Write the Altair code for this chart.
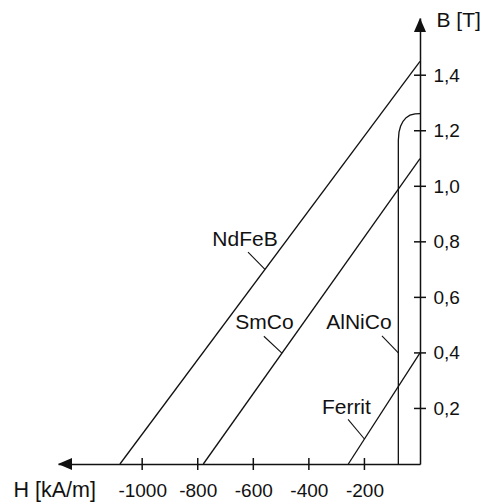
import altair as alt
import pandas as pd

# straight demagnetization lines: start on H axis, end on B axis
materials = ["NdFeB", "SmCo", "Ferrit"]
h_start = [-1080, -780, -258]
b_end = [1.45, 1.10, 0.40]

# AlNiCo curve
alnico_h = [-78, -78, -75.6, -70, -61, -50, -36, -18, 0]
alnico_b = [0, 1.166, 1.195, 1.216, 1.234, 1.247, 1.256, 1.261, 1.262]

# curve labels and leader lines
label_names = ["NdFeB", "SmCo", "AlNiCo", "Ferrit"]
label_h = [-630, -560, -220, -265]
label_b = [0.806, 0.507, 0.509, 0.201]
leader_h1 = [-619, -562, -137, -259]
leader_b1 = [0.763, 0.460, 0.461, 0.161]
leader_h2 = [-558, -497, -78, -200]
leader_b2 = [0.701, 0.399, 0.40, 0.09]

h_ticks = [-1000, -800, -600, -400, -200]
b_ticks = [0.2, 0.4, 0.6, 0.8, 1.0, 1.2, 1.4]
h_domain = [-1303, 0]
b_domain = [0, 1.606]

FONT = "Liberation Sans"
INK = "#111111"

rows = []
for m, h0, b1 in zip(materials, h_start, b_end):
    rows.append({"material": m, "H": h0, "B": 0.0, "o": 0})
    rows.append({"material": m, "H": 0.0, "B": b1, "o": 1})
for i, (h, b) in enumerate(zip(alnico_h, alnico_b)):
    rows.append({"material": "AlNiCo", "H": h, "B": b, "o": i})
lines_df = pd.DataFrame(rows)

labels_df = pd.DataFrame({"name": label_names, "H": label_h, "B": label_b})
leaders_df = pd.DataFrame({"H": leader_h1, "B": leader_b1, "H2": leader_h2, "B2": leader_b2})
xt_df = pd.DataFrame({"H": h_ticks, "B": [0.0] * len(h_ticks)})
yt_df = pd.DataFrame({"H": [0.0] * len(b_ticks), "B": b_ticks})
xarrow_df = pd.DataFrame({"H": [h_domain[0]], "B": [b_domain[0]]})
yarrow_df = pd.DataFrame({"H": [h_domain[1]], "B": [b_domain[1]]})

xscale = alt.Scale(domain=h_domain, nice=False, zero=False)
yscale = alt.Scale(domain=b_domain, nice=False, zero=False)

xaxis = alt.Axis(
    title="H [kA/m]", values=h_ticks, ticks=False, tickSize=0, grid=False,
    domain=True, domainColor=INK, domainWidth=1.5,
    labelExpr="'' + datum.value", labelFont=FONT, labelFontSize=19,
    labelColor=INK, labelPadding=26, labelBaseline="middle",
    titleFont=FONT, titleFontSize=21.5, titleFontWeight="normal", titleColor=INK,
    titleX=-45, titleY=26, titleAlign="left", titleBaseline="middle",
)
yaxis = alt.Axis(
    title="B [T]", values=b_ticks, ticks=False, tickSize=0, grid=False,
    domain=True, domainColor=INK, domainWidth=1.5, orient="right",
    labelExpr="replace(format(datum.value, '.1f'), '.', ',')",
    labelFont=FONT, labelFontSize=19, labelColor=INK, labelPadding=13,
    labelAlign="left", labelBaseline="middle",
    titleFont=FONT, titleFontSize=21, titleFontWeight="normal", titleColor=INK,
    titleX=16, titleY=2, titleAngle=0, titleAlign="left", titleBaseline="middle",
)

X = lambda f="H": alt.X(f"{f}:Q", scale=xscale, axis=xaxis)
Y = lambda f="B": alt.Y(f"{f}:Q", scale=yscale, axis=yaxis)

lines = alt.Chart(lines_df).mark_line(color=INK, strokeWidth=1.3).encode(
    x=X(), y=Y(), detail="material:N", order="o:Q"
)
leaders = alt.Chart(leaders_df).mark_rule(color=INK, strokeWidth=1.1).encode(
    x=X(), y=Y(), x2="H2:Q", y2="B2:Q"
)
labels = alt.Chart(labels_df).mark_text(
    font=FONT, fontSize=21, color=INK, align="center", baseline="middle"
).encode(x=X(), y=Y(), text="name:N")
xticks = alt.Chart(xt_df).mark_tick(
    orient="vertical", size=12, thickness=1.5, color=INK, opacity=1
).encode(x=X(), y=Y())
yticks = alt.Chart(yt_df).mark_tick(
    orient="horizontal", size=12, thickness=1.5, color=INK, opacity=1
).encode(x=X(), y=Y())
xarrow = alt.Chart(xarrow_df).mark_point(
    shape="M0,0L2,-0.86L2,0.86Z", size=196, filled=True, color=INK, opacity=1, strokeWidth=0
).encode(x=X(), y=Y())
yarrow = alt.Chart(yarrow_df).mark_point(
    shape="M0,0L-0.86,2L0.86,2Z", size=196, filled=True, color=INK, opacity=1, strokeWidth=0
).encode(x=X(), y=Y())

chart = alt.layer(lines, leaders, labels, xticks, yticks, xarrow, yarrow).properties(
    width=362, height=446,
    autosize=alt.AutoSizeParams(type="none"),
    padding={"left": 50, "top": 10, "right": 60, "bottom": 38},
    background="white",
).configure_view(stroke=None)

chart.save("out.html", embed_options={"renderer": "svg", "actions": False})
